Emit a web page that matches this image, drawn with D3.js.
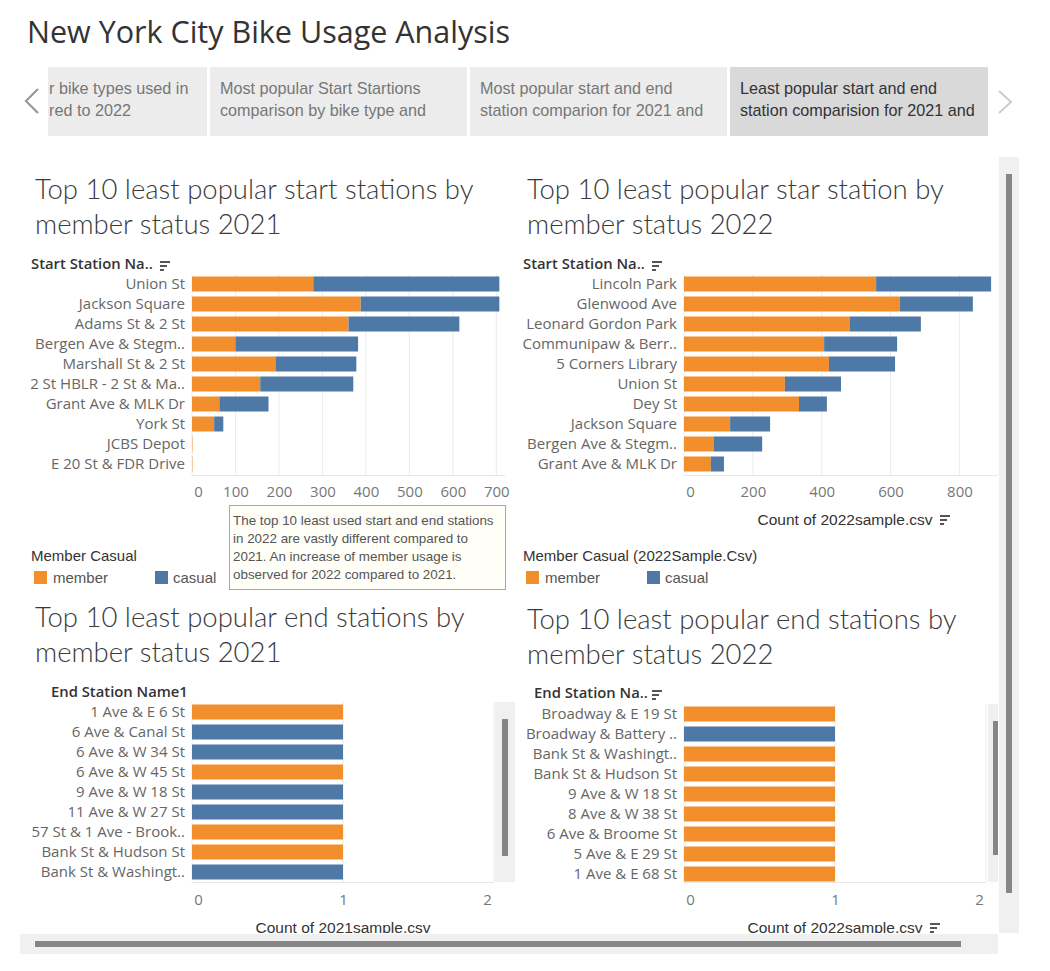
<!DOCTYPE html>
<html>
<head>
<meta charset="utf-8">
<script src="https://cdn.jsdelivr.net/npm/d3@7"></script>
<style>
  html, body { margin: 0; padding: 0; background: #fff; }
  svg { display: block; }
</style>
</head>
<body>
<svg id="chart" width="1050" height="971"></svg>
<script>
// ---------------- DATA ----------------
const tabLabels = [
  ["r bike types used in", "red to 2022"],
  ["Most popular Start Startions", "comparison by bike type and"],
  ["Most popular start and end", "station comparion for 2021 and"],
  ["Least popular start and end", "station comparision for 2021 and"]
];

const start2021Stations = ["Union St", "Jackson Square", "Adams St & 2 St", "Bergen Ave & Stegm..", "Marshall St & 2 St",
  "2 St HBLR - 2 St & Ma..", "Grant Ave & MLK Dr", "York St", "JCBS Depot", "E 20 St & FDR Drive"];
const start2021Member = [279, 388, 360, 100, 192, 157, 63, 51, 1, 1];
const start2021Casual = [428, 319, 255, 282, 186, 214, 113, 21, 0, 0];
const start2021Ticks = [0, 100, 200, 300, 400, 500, 600, 700];

const start2022Stations = ["Lincoln Park", "Glenwood Ave", "Leonard Gordon Park", "Communipaw & Berr..", "5 Corners Library",
  "Union St", "Dey St", "Jackson Square", "Bergen Ave & Stegm..", "Grant Ave & MLK Dr"];
const start2022Member = [558, 627, 482, 407, 421, 293, 334, 134, 87, 78];
const start2022Casual = [334, 212, 206, 212, 192, 163, 81, 116, 140, 38];
const start2022Ticks = [0, 200, 400, 600, 800];

const end2021Stations = ["1 Ave & E 6 St", "6 Ave & Canal St", "6 Ave & W 34 St", "6 Ave & W 45 St", "9 Ave & W 18 St",
  "11 Ave & W 27 St", "57 St & 1 Ave - Brook..", "Bank St & Hudson St", "Bank St & Washingt.."];
const end2021Type = ["member", "casual", "casual", "member", "casual", "casual", "member", "member", "casual"];
const end2021Count = [1, 1, 1, 1, 1, 1, 1, 1, 1];

const end2022Stations = ["Broadway & E 19 St", "Broadway & Battery ..", "Bank St & Washingt..", "Bank St & Hudson St",
  "9 Ave & W 18 St", "8 Ave & W 38 St", "6 Ave & Broome St", "5 Ave & E 29 St", "1 Ave & E 68 St"];
const end2022Type = ["member", "casual", "member", "member", "member", "member", "member", "member", "member"];
const end2022Count = [1, 1, 1, 1, 1, 1, 1, 1, 1];
const endTicks = [0, 1, 2];

const memberTypes = ["member", "casual"];
const annotationLines = [
  "The top 10 least used start and end stations",
  "in 2022 are vastly different compared to",
  "2021. An increase of member usage is",
  "observed for 2022 compared to 2021."
];

// ---------------- STYLE ----------------
const color = d3.scaleOrdinal().domain(memberTypes).range(["#F28E2B", "#4E79A7"]);
const F_TITLE = "'Open Sans', 'Noto Sans', sans-serif";
const F_CHART = "Lato, 'Open Sans', sans-serif";
const F_UI = "'Liberation Sans', Arial, sans-serif";
const F_LABEL = "'Open Sans', 'Noto Sans', sans-serif";

const svg = d3.select("#chart");

// ---------- header ----------
svg.append("text").attr("x", 27).attr("y", 43)
  .attr("font-family", F_TITLE).attr("font-size", 30.5).attr("font-weight", 400).attr("fill", "#333")
  .text("New York City Bike Usage Analysis");

// tabs
const tabs = [
  {x: 48, w: 159, sel: false, tx: 49},
  {x: 210, w: 257, sel: false, tx: 220},
  {x: 470, w: 257, sel: false, tx: 480},
  {x: 730, w: 258, sel: true, tx: 740}
];
const defs = svg.append("defs");
tabs.forEach((t, i) => {
  defs.append("clipPath").attr("id", "tabclip" + i)
    .append("rect").attr("x", t.x).attr("y", 67).attr("width", t.w).attr("height", 69);
  const g = svg.append("g").attr("clip-path", `url(#tabclip${i})`);
  g.append("rect").attr("x", t.x).attr("y", 67).attr("width", t.w).attr("height", 69)
    .attr("fill", t.sel ? "#d9d9d9" : "#ececec");
  tabLabels[i].forEach((line, j) => {
    g.append("text").attr("x", t.tx).attr("y", 94 + j * 22)
      .attr("font-family", F_UI).attr("font-size", 16.2)
      .attr("fill", t.sel ? "#333" : "#777").text(line);
  });
});
svg.append("path").attr("d", "M38,89 L26,101 L38,113").attr("fill", "none")
  .attr("stroke", "#999").attr("stroke-width", 2.2);
svg.append("path").attr("d", "M999,91 L1011,102 L999,113").attr("fill", "none")
  .attr("stroke", "#ccc").attr("stroke-width", 2);

// ---------- dashboard area ----------
defs.append("clipPath").attr("id", "dashclip")
  .append("rect").attr("x", 0).attr("y", 150).attr("width", 999).attr("height", 783);
const dash = svg.append("g").attr("clip-path", "url(#dashclip)");

function sortIcon(g, x, y) {
  [10, 7, 4].forEach((w, i) => {
    g.append("rect").attr("x", x).attr("y", y + i * 4).attr("width", w).attr("height", 2).attr("fill", "#555");
  });
}

function chartTitle(x, y, lines) {
  lines.forEach((l, i) => {
    dash.append("text").attr("x", x).attr("y", y + i * 35)
      .attr("font-family", F_CHART).attr("font-size", 27.5).attr("font-weight", 300).attr("fill", "#3a3a3a").text(l);
  });
}

function barChart(opt) {
  const g = dash.append("g");
  const x = d3.scaleLinear().domain(opt.domain).range([opt.x0, opt.x1]);
  const y = d3.scaleBand().domain(opt.stations).range([opt.y0, opt.y1]).paddingInner(0.25).paddingOuter(0.125);

  // gridlines
  g.append("g").selectAll("line").data(opt.gridTicks).join("line")
    .attr("x1", d => x(d)).attr("x2", d => x(d))
    .attr("y1", opt.y0).attr("y2", opt.axisY)
    .attr("stroke", "#ececec").attr("stroke-width", 1);
  g.append("line").attr("x1", opt.x0).attr("x2", opt.x1).attr("y1", opt.axisY + 0.5).attr("y2", opt.axisY + 0.5)
    .attr("stroke", "#e6e6e6");

  // bars
  if (opt.stacked) {
    const rows = opt.stations.map((s, i) => ({station: s, member: opt.member[i], casual: opt.casual[i]}));
    const series = d3.stack().keys(memberTypes)(rows);
    g.append("g").selectAll("g").data(series).join("g").attr("fill", d => color(d.key))
      .selectAll("rect").data(d => d).join("rect")
      .attr("x", d => x(d[0])).attr("width", d => Math.max(0, x(d[1]) - x(d[0])))
      .attr("y", d => y(d.data.station)).attr("height", y.bandwidth());
  } else {
    const rows = opt.stations.map((s, i) => ({station: s, type: opt.types[i], v: opt.counts[i]}));
    g.append("g").selectAll("rect").data(rows).join("rect")
      .attr("x", x(0)).attr("width", d => x(d.v) - x(0))
      .attr("y", d => y(d.station)).attr("height", y.bandwidth())
      .attr("fill", d => color(d.type));
  }

  // y axis labels
  const ya = g.append("g").attr("transform", `translate(${opt.labelX},0)`)
    .call(d3.axisLeft(y).tickSize(0).tickPadding(0));
  ya.select(".domain").remove();
  ya.selectAll("text").attr("font-family", F_LABEL).attr("font-size", 15).attr("fill", "#666");

  // x axis
  const xa = g.append("g").attr("transform", `translate(0,${opt.axisY})`)
    .call(d3.axisBottom(x).tickValues(opt.ticks).tickSize(0).tickPadding(0).tickFormat(d3.format("d")));
  xa.select(".domain").remove();
  xa.selectAll("text").attr("font-family", F_LABEL).attr("font-size", 15).attr("fill", "#777")
    .attr("dy", null).attr("y", opt.tickY - opt.axisY)
    .attr("dx", (d, i) => i === 0 ? 6 : (opt.lastShift && i === opt.ticks.length - 1 ? opt.lastShift : 0));

  // header
  g.append("text").attr("x", opt.headX).attr("y", opt.headY)
    .attr("font-family", F_LABEL).attr("font-weight", 600).attr("font-size", 14.8).attr("fill", "#333")
    .text(opt.header);
  if (opt.headIcon) sortIcon(g, opt.headIcon, opt.headY - 8);

  // axis title
  if (opt.axisTitle) {
    g.append("text").attr("x", opt.axisTitleX).attr("y", opt.axisTitleY).attr("text-anchor", "middle")
      .attr("font-family", F_UI).attr("font-size", 15.5).attr("fill", opt.axisTitleColor || "#333")
      .text(opt.axisTitle);
    if (opt.axisIcon) sortIcon(g, opt.axisIcon, opt.axisTitleY - 10);
  }
  return g;
}

// titles
chartTitle(35, 199, ["Top 10 least popular start stations by", "member status 2021"]);
chartTitle(527, 199, ["Top 10 least popular star station by", "member status 2022"]);
chartTitle(35, 627, ["Top 10 least popular end stations by", "member status 2021"]);
chartTitle(527, 629, ["Top 10 least popular end stations by", "member status 2022"]);

// top-left
barChart({
  stacked: true, stations: start2021Stations, member: start2021Member, casual: start2021Casual,
  domain: [0, 720], x0: 192, x1: 505, y0: 274, y1: 474, axisY: 475, tickY: 497,
  ticks: start2021Ticks, gridTicks: start2021Ticks, labelX: 185,
  header: "Start Station Na..", headX: 31, headY: 269, headIcon: 160,
  axisTitle: "Count of 2021sample.csv", axisTitleX: 340, axisTitleY: 525, axisIcon: 432, axisTitleColor: "#444"
});

// top-right
barChart({
  stacked: true, stations: start2022Stations, member: start2022Member, casual: start2022Casual,
  domain: [0, 912], x0: 684, x1: 998, y0: 274, y1: 474, axisY: 475, tickY: 497,
  ticks: start2022Ticks, gridTicks: start2022Ticks, labelX: 677,
  header: "Start Station Na..", headX: 523, headY: 269, headIcon: 652,
  axisTitle: "Count of 2022sample.csv", axisTitleX: 845, axisTitleY: 525, axisIcon: 940
});

// bottom-left
barChart({
  stacked: false, stations: end2021Stations, types: end2021Type, counts: end2021Count,
  domain: [0, 2], x0: 192, x1: 494, y0: 702, y1: 882, axisY: 882, tickY: 905,
  ticks: endTicks, gridTicks: endTicks, labelX: 185, lastShift: -7,
  header: "End Station Name1", headX: 51, headY: 697,
  axisTitle: "Count of 2021sample.csv", axisTitleX: 343, axisTitleY: 933
});

// bottom-right
barChart({
  stacked: false, stations: end2022Stations, types: end2022Type, counts: end2022Count,
  domain: [0, 2], x0: 684, x1: 986, y0: 704, y1: 884, axisY: 882, tickY: 905,
  ticks: endTicks, gridTicks: endTicks, labelX: 677, lastShift: -7,
  header: "End Station Na..", headX: 534, headY: 698, headIcon: 652,
  axisTitle: "Count of 2022sample.csv", axisTitleX: 835, axisTitleY: 933, axisIcon: 930
});

// inner scrollbars
dash.append("rect").attr("x", 495).attr("y", 702).attr("width", 20).attr("height", 180).attr("fill", "#f0f0f0");
dash.append("rect").attr("x", 502).attr("y", 719).attr("width", 6).attr("height", 137).attr("fill", "#868686");
dash.append("rect").attr("x", 988).attr("y", 704).attr("width", 10).attr("height", 178).attr("fill", "#f0f0f0");
dash.append("rect").attr("x", 993).attr("y", 721).attr("width", 5).attr("height", 134).attr("fill", "#868686");

// legends
function legend(x, y, title, items) {
  dash.append("text").attr("x", x).attr("y", y).attr("font-family", F_UI).attr("font-size", 15)
    .attr("fill", "#333").text(title);
  items.forEach(it => {
    dash.append("rect").attr("x", it.sx).attr("y", y + 10).attr("width", 13).attr("height", 13)
      .attr("fill", color(it.key));
    dash.append("text").attr("x", it.tx).attr("y", y + 22).attr("font-family", F_UI).attr("font-size", 15)
      .attr("fill", "#555").text(it.key);
  });
}
legend(31, 561, "Member Casual", [{key: "member", sx: 34, tx: 53}, {key: "casual", sx: 155, tx: 173}]);
legend(523, 561, "Member Casual (2022Sample.Csv)", [{key: "member", sx: 526, tx: 545}, {key: "casual", sx: 647, tx: 665}]);

// annotation (drawn over the hidden axis title, as in the dashboard)
dash.append("rect").attr("x", 229.5).attr("y", 505.5).attr("width", 276).attr("height", 84)
  .attr("fill", "#fffff8").attr("fill-opacity", 0.95).attr("stroke", "#a8a8a8");
annotationLines.forEach((l, i) => {
  dash.append("text").attr("x", 233).attr("y", 525 + i * 18)
    .attr("font-family", F_UI).attr("font-size", 13.4).attr("fill", "#555").text(l);
});

// main scrollbars
svg.append("rect").attr("x", 999).attr("y", 157).attr("width", 20).attr("height", 776).attr("fill", "#f0f0f0");
svg.append("rect").attr("x", 1006).attr("y", 174).attr("width", 6).attr("height", 719).attr("fill", "#868686");
svg.append("rect").attr("x", 20).attr("y", 934).attr("width", 978).attr("height", 20).attr("fill", "#f0f0f0");
svg.append("rect").attr("x", 35).attr("y", 941).attr("width", 926).attr("height", 6).attr("fill", "#868686");
</script>
</body>
</html>
